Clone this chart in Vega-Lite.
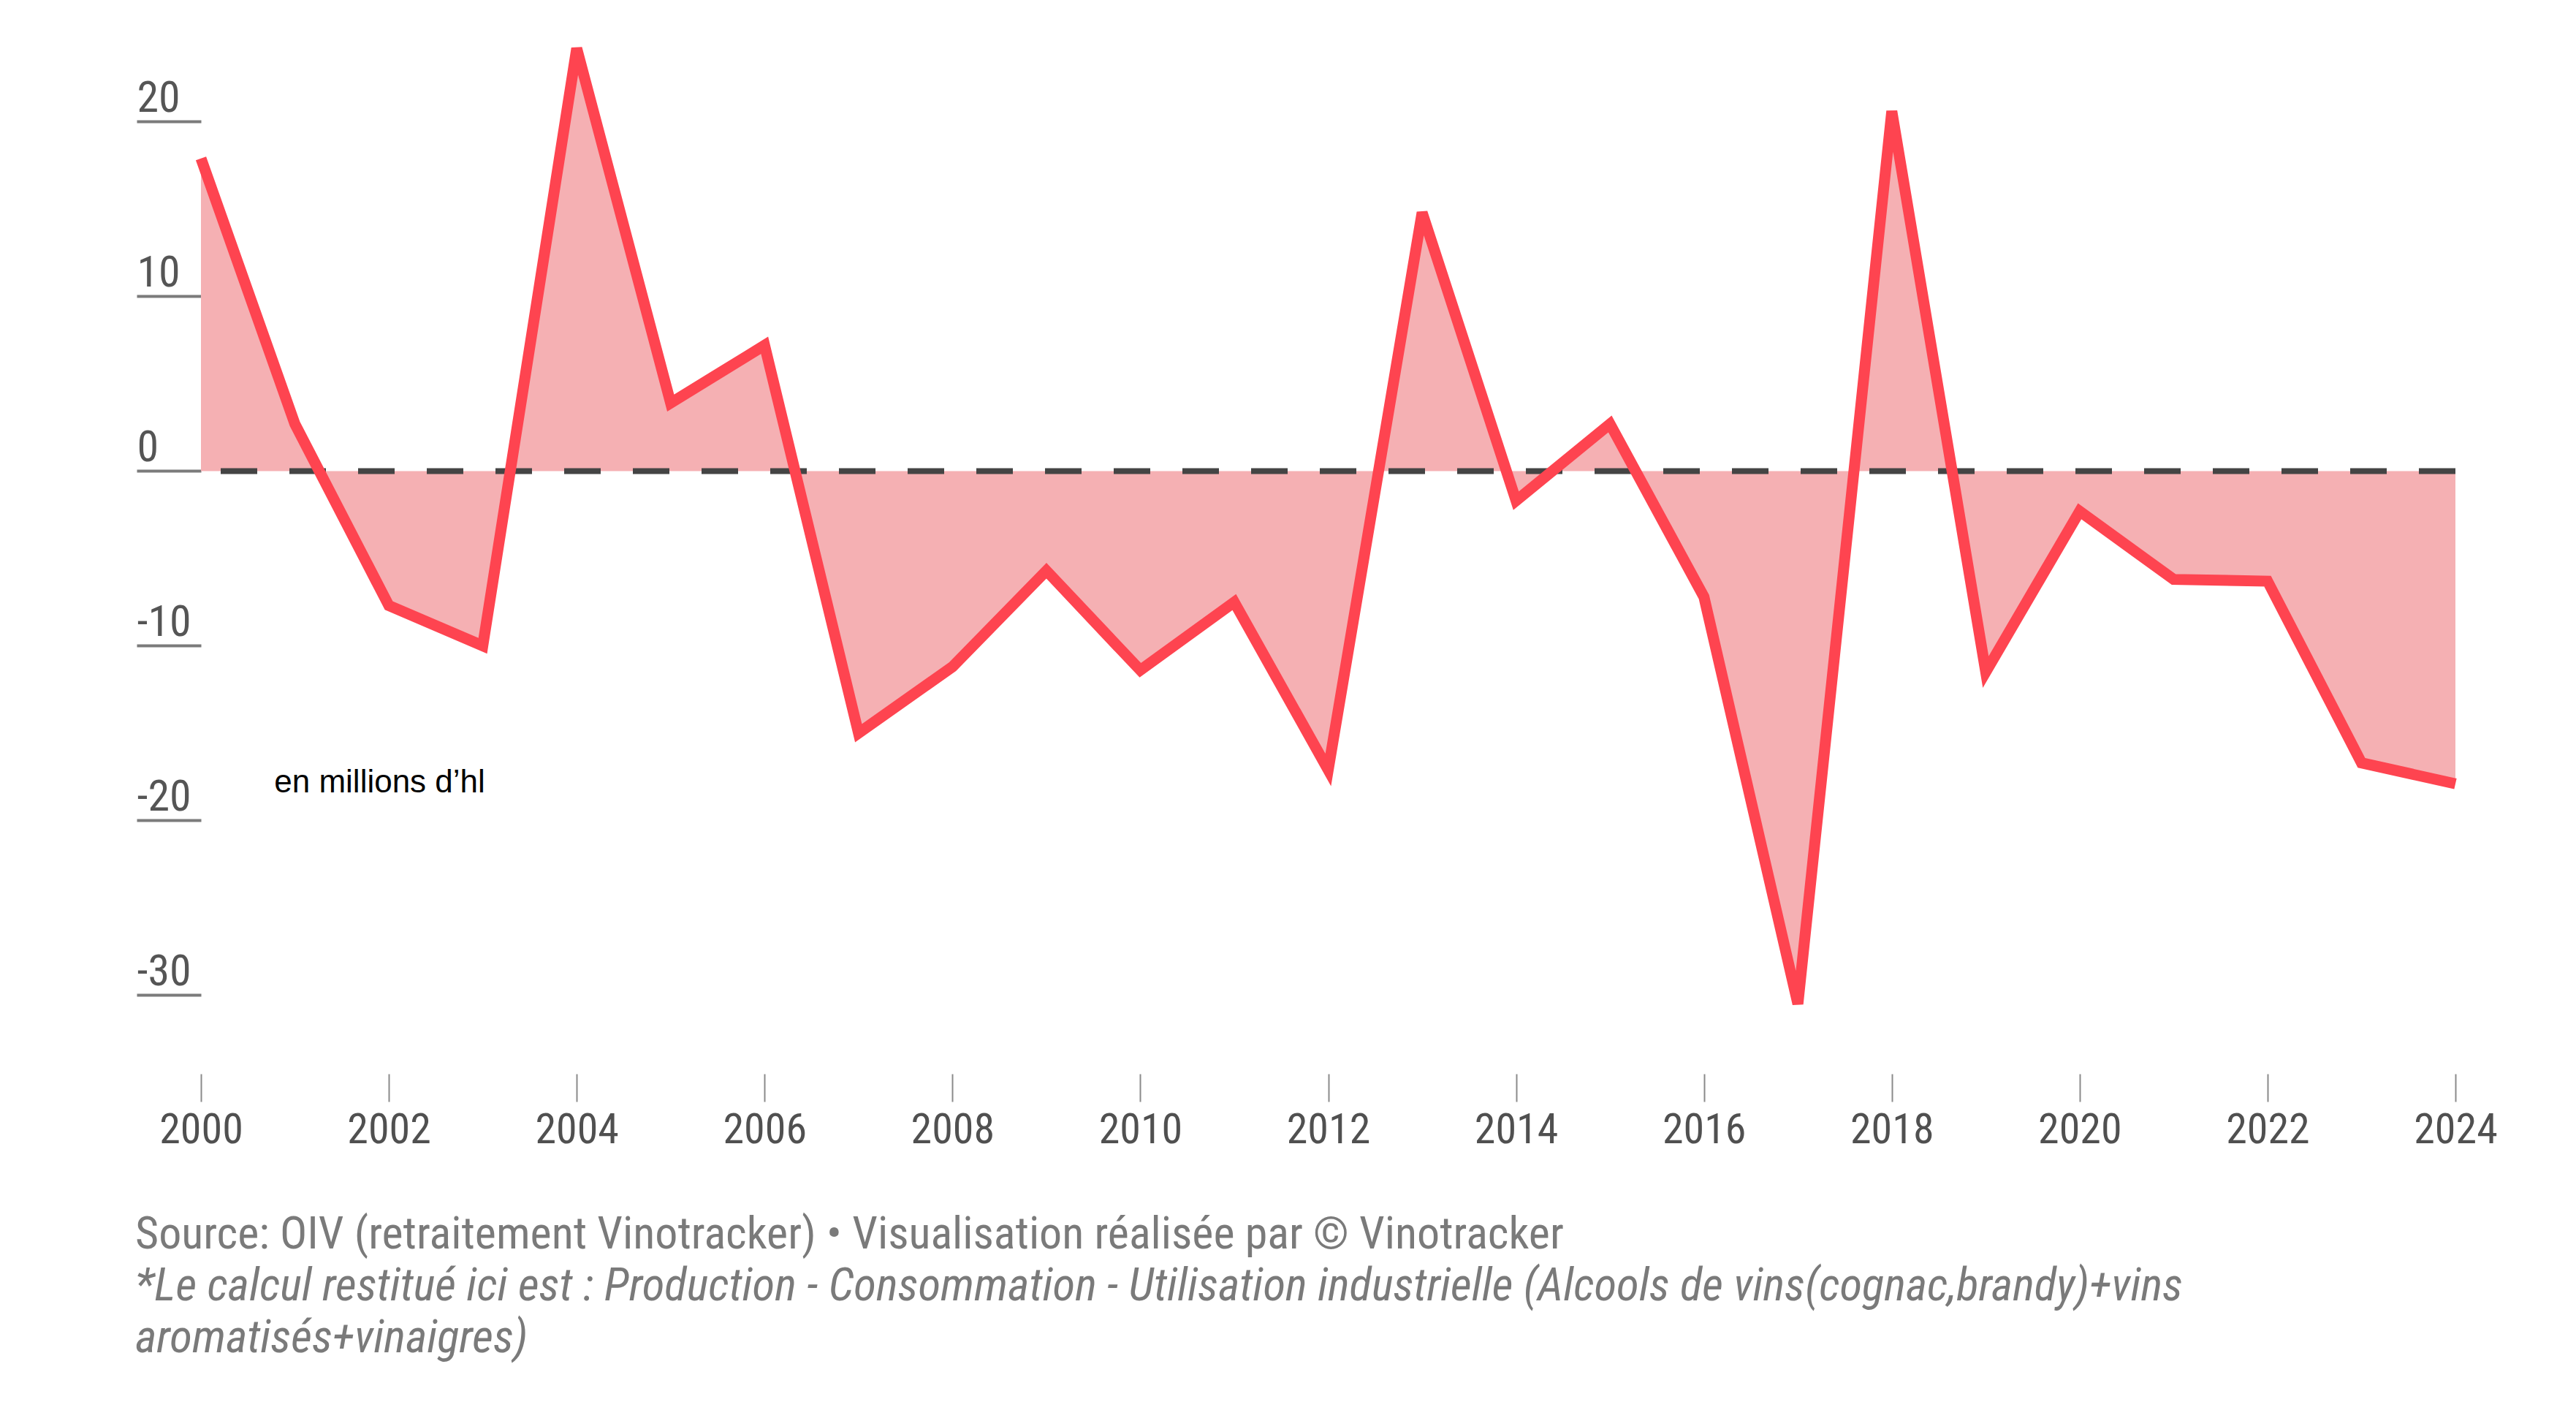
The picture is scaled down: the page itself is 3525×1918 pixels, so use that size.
{
  "$schema": "https://vega.github.io/schema/vega-lite/v6.json",
  "width": 3085,
  "height": 1422,
  "autosize": {"type": "none"},
  "padding": {"left": 275, "top": 47, "right": 165, "bottom": 449},
  "background": "white",
  "config": {
    "view": {"stroke": null},
    "font": "Roboto Condensed, Liberation Sans Narrow, DejaVu Sans Condensed, Roboto, sans-serif"
  },
  "data": {
    "values": [
      {"year": 2000, "value": 17.9},
      {"year": 2001, "value": 2.7},
      {"year": 2002, "value": -7.7},
      {"year": 2003, "value": -10.0},
      {"year": 2004, "value": 24.2},
      {"year": 2005, "value": 3.9},
      {"year": 2006, "value": 7.2},
      {"year": 2007, "value": -15.0},
      {"year": 2008, "value": -11.2},
      {"year": 2009, "value": -5.7},
      {"year": 2010, "value": -11.4},
      {"year": 2011, "value": -7.5},
      {"year": 2012, "value": -17.1},
      {"year": 2013, "value": 14.8},
      {"year": 2014, "value": -1.7},
      {"year": 2015, "value": 2.7},
      {"year": 2016, "value": -7.2},
      {"year": 2017, "value": -30.5},
      {"year": 2018, "value": 20.6},
      {"year": 2019, "value": -11.5},
      {"year": 2020, "value": -2.3},
      {"year": 2021, "value": -6.2},
      {"year": 2022, "value": -6.3},
      {"year": 2023, "value": -16.7},
      {"year": 2024, "value": -17.9}
    ]
  },
  "layer": [
    {
      "mark": {"type": "area", "color": "#f5b0b3", "opacity": 1},
      "encoding": {
        "x": {
          "field": "year",
          "type": "quantitative",
          "scale": {"domain": [2000, 2024], "nice": false, "zero": false},
          "axis": {
            "values": [2000, 2002, 2004, 2006, 2008, 2010, 2012, 2014, 2016, 2018, 2020, 2022, 2024],
            "format": "d",
            "domain": false,
            "grid": false,
            "tickSize": 38,
            "tickWidth": 2,
            "tickColor": "#8a8a8a",
            "labelPadding": 10,
            "labelFontSize": 58,
            "labelColor": "#505050",
            "labelFlush": false,
            "labelOverlap": false,
            "title": null
          }
        },
        "y": {
          "field": "value",
          "type": "quantitative",
          "scale": {"domain": [-34.5, 25], "nice": false, "zero": false},
          "axis": {
            "values": [-30, -20, -10, 0, 10, 20],
            "labelExpr": "toString(datum.value)",
            "domain": false,
            "grid": false,
            "tickSize": 88,
            "tickWidth": 4,
            "tickColor": "#7b7b7b",
            "labelAlign": "left",
            "labelBaseline": "alphabetic",
            "labelPadding": 0,
            "labelOffset": -14,
            "labelFontSize": 60,
            "labelColor": "#555555",
            "labelOverlap": false,
            "title": null
          }
        },
        "y2": {"datum": 0}
      }
    },
    {
      "data": {"values": [{"ref": 0}]},
      "mark": {"type": "rule", "color": "#444444", "strokeWidth": 8, "strokeDash": [50, 44]},
      "encoding": {"y": {"field": "ref", "type": "quantitative"}}
    },
    {
      "mark": {"type": "line", "color": "#fe4450", "strokeWidth": 15},
      "encoding": {
        "x": {"field": "year", "type": "quantitative"},
        "y": {"field": "value", "type": "quantitative"}
      }
    },
    {
      "data": {"values": [{"label": "en millions d’hl"}]},
      "mark": {
        "type": "text",
        "font": "Liberation Sans, Arial, Helvetica, sans-serif",
        "fontSize": 44,
        "color": "#000000",
        "align": "left",
        "baseline": "alphabetic"
      },
      "encoding": {
        "x": {"datum": 2000.78},
        "y": {"datum": -18.4},
        "text": {"field": "label"}
      }
    }
  ],
  "title": {
    "text": "Source: OIV (retraitement Vinotracker) • Visualisation réalisée par © Vinotracker",
    "subtitle": [
      "*Le calcul restitué ici est : Production - Consommation - Utilisation industrielle (Alcools de vins(cognac,brandy)+vins",
      "aromatisés+vinaigres)"
    ],
    "orient": "bottom",
    "anchor": "start",
    "frame": "bounds",
    "offset": 84,
    "fontSize": 62,
    "fontWeight": "normal",
    "color": "#7a7a7a",
    "subtitleFontSize": 63,
    "subtitleFontStyle": "italic",
    "subtitleColor": "#7a7a7a",
    "subtitlePadding": 8,
    "subtitleLineHeight": 71
  }
}
